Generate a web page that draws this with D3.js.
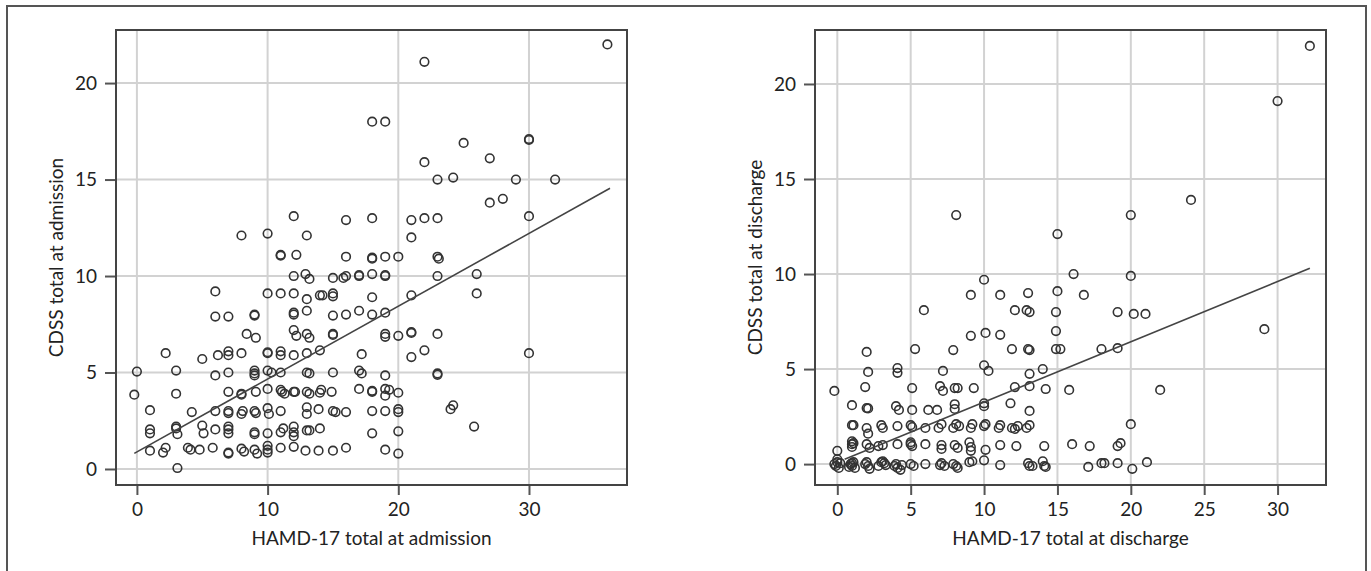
<!DOCTYPE html>
<html>
<head>
<meta charset="utf-8">
<script src="https://cdn.jsdelivr.net/npm/d3@7"></script>
<style>
  body { margin: 0; background: white; }
  svg { display: block; }
</style>
</head>
<body>
<div id="chart"></div>
<script>
// HAMD-17 vs CDSS, at admission
var admissionPts = [[36,22],[22,21.1],[18,18],[19,18],[30,17.1],[30,17.05],[25,16.9],[22,15.9],[27,16.1],[23,15],[24.2,15.1],[29,15],[32,15],[27,13.8],[28,14],
[12,13.1],[16,12.9],[18,13],[21,12.9],[22,13],[23,13],[30,13.1],[8,12.1],[10,12.2],[13,12.1],[21,12],[11,11.1],[11,11.05],[12.2,11.1],[16,11],[18,10.9],[18,10.95],[19,11],[20,11],[23,11],[23.1,10.9],
[12,10],[12.9,10.1],[13.2,9.85],[15,9.9],[15.8,9.9],[16,10],[17,10],[17,10.05],[18,10.1],[19,10],[19,10.05],[23,10],[26,10.1],
[6,9.2],[10,9.1],[11,9.1],[12,9.1],[13,8.8],[14,9],[14.2,9],[15,9.1],[15,8.95],[18,8.9],[21,9],[26,9.1],
[6,7.9],[7,7.9],[9,8],[9,7.95],[12,8.1],[12,8],[13,8.2],[15,7.95],[16,8],[17,8.2],[18,8],[19,8.1],
[8.4,7],[9.1,6.8],[12,7.2],[12.2,6.9],[13,7],[13.2,6.8],[15,7],[15,6.95],[19,7],[19,6.85],[20,6.9],[21,7.1],[21,7.05],[23,7],
[2.2,6],[6.2,5.9],[7,6.1],[7,5.9],[8,6],[10,6],[10,6.05],[11,6.1],[11,5.9],[12,5.9],[13,6],[14,6.15],[17.2,5.95],[22,6.15],[21,5.8],[30,6],[5,5.7],
[0,5.05],[3,5.1],[6,4.85],[7,5],[9,5.1],[9,4.95],[9,4.85],[10,5.1],[10.3,5],[11,5],[13,5],[13.2,4.95],[15,5],[17,5.1],[17.2,4.95],[19,4.85],[23,4.95],[23,4.88],
[-0.2,3.85],[3,3.9],[7,4],[8,3.85],[8,3.9],[9.1,4],[10,4.15],[11,4.1],[11.1,4],[11.3,3.9],[12,4],[12.1,4],[13,4],[13.2,3.9],[14,3.95],[14.1,4.1],[14.9,4],[17,4.15],[18,4],[18,4.05],[19,3.8],[19,4.15],[19.3,4.1],[20,3.95],
[1,3.05],[4.2,2.95],[6,3],[7,3],[7,2.9],[8,2.85],[8.1,3],[9,3],[9.1,2.9],[10,3.15],[10.1,2.85],[11,3],[13,3.2],[13,2.85],[13.9,3.1],[15,3],[15.2,2.95],[16,2.95],[18,3],[19,3],[20,3.1],[20,2.95],[24,3.1],[24.2,3.3],
[1,2.05],[1,1.85],[3,2.2],[3,2.1],[3.1,1.8],[5,2.25],[5.1,1.85],[6,2.05],[7,2.2],[7,2.05],[7,1.85],[9,1.9],[9,1.8],[10,1.85],[11,1.9],[11.2,2.1],[12,2.2],[12,1.9],[12,1.7],[13,2],[13.2,2],[14,2.1],[18,1.85],[20,1.95],[25.8,2.2],
[1,0.95],[2,0.85],[2.2,1.1],[3.9,1.1],[4.1,1],[4.8,1],[5.8,1.1],[7,0.8],[7,0.85],[8,1.05],[8.2,0.9],[9,1],[9.2,0.8],[10,1.2],[10,1],[10,0.85],[11,1.1],[12,1.15],[12.9,0.95],[13.9,0.95],[15,0.95],[16,1.1],[19,1],[20,0.8],[3.1,0.05]];

// HAMD-17 vs CDSS, at discharge
var dischargePts = [[32.2,22],[30,19.1],[24.1,13.9],[8.1,13.1],[20,13.1],[15,12.1],[16.1,10],[20,9.9],[10,9.7],[9.1,8.9],[11.1,8.9],[13,9],[15,9.1],[16.8,8.9],
[5.9,8.1],[12.1,8.1],[12.9,8.1],[13.1,8],[14.9,8],[19.1,8],[20.2,7.9],[21,7.9],[29.1,7.1],[14.9,7],[9.1,6.75],[10.1,6.9],[11.1,6.8],
[5.3,6.05],[7.9,6],[11.9,6.05],[13,6.05],[13.1,6],[14.9,6.05],[15.2,6.05],[18,6.05],[19.1,6.1],[2,5.9],
[2.1,4.85],[4.1,5.05],[4.1,4.8],[7.2,4.9],[10,5.2],[10.3,4.9],[13.1,4.75],[14,5],
[1.9,4.05],[5.1,4],[7,4.1],[7.2,3.85],[8,4],[8.2,4],[9.3,4],[12.1,4.05],[13.1,4.1],[14.2,3.95],[15.8,3.9],[22,3.9],[-0.2,3.85],
[1,3.1],[2,2.95],[2.1,2.93],[4,3.05],[4.2,2.85],[5.1,2.85],[6.2,2.85],[6.8,2.85],[8,3.15],[8,2.9],[10,3.2],[10,3.05],[11.8,3.2],[13.1,2.8],
[1,2.05],[1.1,2.05],[2,1.9],[2.1,1.6],[3,2.05],[3.1,1.9],[4.1,2],[5,2.05],[5.1,1.95],[6,1.9],[6.9,1.9],[7.1,2.1],[7.9,1.9],[8.1,2.1],[8.3,2],[9.1,1.9],[9.2,2.1],[10,2],[10.1,2.1],[11,1.9],[11.1,2.05],[11.9,1.9],[12.1,1.85],[12.3,2],[12.9,1.9],[13.1,2.05],[20,2.1],
[0,0.7],[1,1.05],[1,0.9],[1.1,1.1],[1,1.2],[2,1.05],[2.2,0.85],[3.1,1],[2.8,0.95],[4.1,1.05],[5,1.05],[5,1.15],[5.1,0.95],[6,1.05],[7.1,1],[7.1,0.8],[8,1],[8.2,0.85],[9,1.15],[9.1,0.9],[9.1,0.7],[10.1,0.75],[11.1,1],[12.2,0.95],[14.1,0.95],[16,1.05],[17.2,0.95],[19.1,0.95],[19.3,1.1],
[-0.2,0],[0,0.1],[0.1,-0.2],[-0.1,-0.1],[0.2,0.05],[0,0.25],[0.9,0],[1,-0.1],[1.1,0.1],[1.2,-0.2],[0.8,-0.15],[1,0.05],[2,0.1],[2.1,-0.1],[2.2,-0.25],[1.9,0],
[3,0.1],[3.2,0.05],[3.3,-0.05],[2.8,-0.1],[3.1,0.15],[4,0],[4.1,-0.2],[4.3,-0.3],[4.4,-0.05],[3.9,-0.1],[5,0],[5.2,-0.1],[6,0],[7,-0.05],[7.1,0.05],[7.3,-0.1],
[7.9,0],[8.1,-0.1],[8.2,-0.2],[9,0.1],[9.2,0.15],[10,0.2],[11.1,-0.05],[13,0.05],[13.1,-0.1],[13.3,-0.1],[14,0.15],[14.1,-0.1],[14.2,-0.15],[17.1,-0.15],[18,0.05],[18.2,0.05],[19.1,0.05],[20.1,-0.25],[21.1,0.1]];

// fitted lines, start and end
var admissionFit = [[-0.2,0.81],[36.2,14.55]];
var dischargeFit = [[0.5,0.25],[32.2,10.3]];

var admissionXTicks = [0, 10, 20, 30];
var dischargeXTicks = [0, 5, 10, 15, 20, 25, 30];
var yTicks = [0, 5, 10, 15, 20];

var width = 1371, height = 571;
var font = "Lato, 'Open Sans', sans-serif";

var svg = d3.select("#chart")
  .append("svg")
  .attr("width", width)
  .attr("height", height);

// outer frame (open at the bottom)
svg.append("path")
  .attr("d", "M7,575 L7,6 L1366,6 L1366,575")
  .style("fill", "none")
  .style("stroke", "#555")
  .style("stroke-width", 2);

function drawPanel(pts, fit, xTicks, opt) {
  var x = d3.scaleLinear().domain(opt.xDomain).range([opt.left, opt.right]);
  var y = d3.scaleLinear().domain(opt.yDomain).range([opt.bottom, opt.top]);

  var g = svg.append("g");

  // grid
  g.selectAll(".vgrid").data(xTicks).enter().append("line")
    .attr("x1", function(d) { return x(d); })
    .attr("x2", function(d) { return x(d); })
    .attr("y1", opt.top).attr("y2", opt.bottom)
    .style("stroke", "#d2d2d2").style("stroke-width", 2);
  g.selectAll(".hgrid").data(yTicks).enter().append("line")
    .attr("y1", function(d) { return y(d); })
    .attr("y2", function(d) { return y(d); })
    .attr("x1", opt.left).attr("x2", opt.right)
    .style("stroke", "#d2d2d2").style("stroke-width", 2);

  // axes
  var xAxis = d3.axisBottom(x).tickValues(xTicks).tickSize(10).tickPadding(8);
  var yAxis = d3.axisLeft(y).tickValues(yTicks).tickSize(11).tickPadding(8);

  var xg = g.append("g").attr("transform", "translate(0," + opt.bottom + ")").call(xAxis);
  var yg = g.append("g").attr("transform", "translate(" + opt.left + ",0)").call(yAxis);
  [xg, yg].forEach(function(a) {
    a.select(".domain").remove();
    a.selectAll("line").style("stroke", "#555").style("stroke-width", 2);
    a.selectAll("text").style("font-family", font).style("font-size", "19px").style("fill", "#222");
  });

  // points
  g.selectAll("circle").data(pts).enter().append("circle")
    .attr("cx", function(d) { return x(d[0]); })
    .attr("cy", function(d) { return y(d[1]); })
    .attr("r", 4.3)
    .style("fill", "none")
    .style("stroke", "#333")
    .style("stroke-width", 1.6);

  // fit line
  var line = d3.line().x(function(d) { return x(d[0]); }).y(function(d) { return y(d[1]); });
  g.append("path")
    .attr("d", line(fit))
    .style("fill", "none")
    .style("stroke", "#444")
    .style("stroke-width", 1.6);

  // plot frame
  g.append("rect")
    .attr("x", opt.left).attr("y", opt.top)
    .attr("width", opt.right - opt.left).attr("height", opt.bottom - opt.top)
    .style("fill", "none").style("stroke", "#444").style("stroke-width", 2);

  // titles
  g.append("text")
    .attr("x", (opt.left + opt.right) / 2).attr("y", 545)
    .attr("text-anchor", "middle")
    .style("font-family", font).style("font-size", "19px").style("fill", "#222")
    .text(opt.xTitle);
  g.append("text")
    .attr("transform", "translate(" + opt.yTitleX + "," + (opt.top + opt.bottom) / 2 + ") rotate(-90)")
    .attr("text-anchor", "middle")
    .style("font-family", font).style("font-size", "19px").style("fill", "#222")
    .text(opt.yTitle);
}

drawPanel(admissionPts, admissionFit, admissionXTicks, {
  left: 116, right: 627, top: 30, bottom: 485,
  xDomain: [-1.6, 37.5], yDomain: [-0.83, 22.75],
  xTitle: "HAMD-17 total at admission", yTitle: "CDSS total at admission", yTitleX: 63
});

drawPanel(dischargePts, dischargeFit, dischargeXTicks, {
  left: 815, right: 1326, top: 30, bottom: 485,
  xDomain: [-1.52, 33.3], yDomain: [-1.1, 22.84],
  xTitle: "HAMD-17 total at discharge", yTitle: "CDSS total at discharge", yTitleX: 762
});
</script>
</body>
</html>
